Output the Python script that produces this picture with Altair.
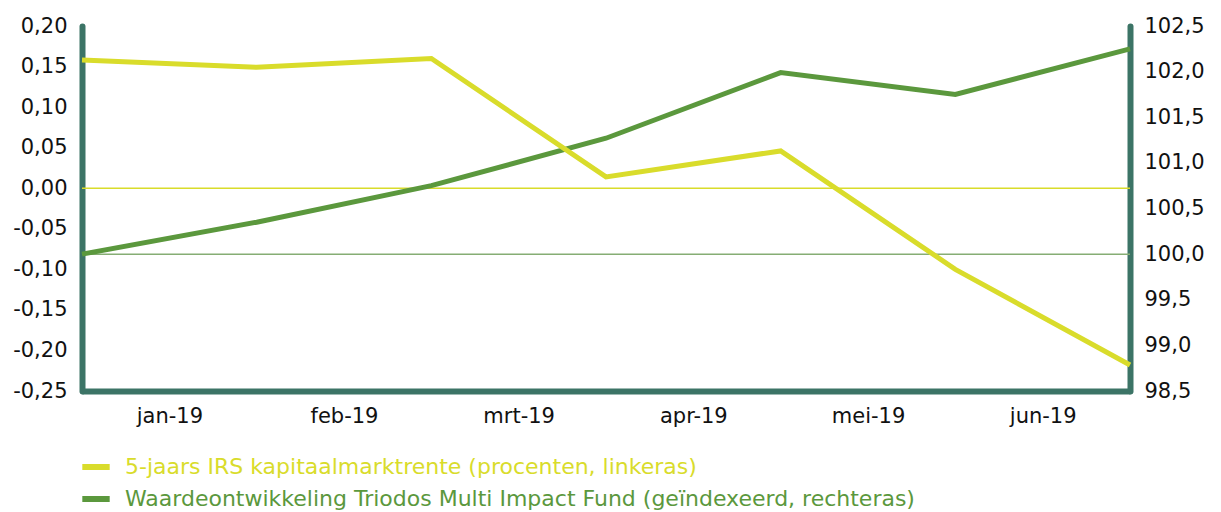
import altair as alt
import pandas as pd

months = ["jan-19", "feb-19", "mrt-19", "apr-19", "mei-19", "jun-19"]
x_idx = [0, 1, 2, 3, 4, 5, 6]
irs = [0.158, 0.149, 0.160, 0.014, 0.046, -0.100, -0.218]
fund = [100.0, 100.35, 100.75, 101.27, 101.99, 101.75, 102.25]
series = ["5-jaars IRS kapitaalmarktrente (procenten, linkeras)",
          "Waardeontwikkeling Triodos Multi Impact Fund (geïndexeerd, rechteras)"]
colors = ["#d9dc2b", "#5b983d"]
left_ticks = [-0.25, -0.20, -0.15, -0.10, -0.05, 0.0, 0.05, 0.10, 0.15, 0.20]
right_ticks = [98.5, 99.0, 99.5, 100.0, 100.5, 101.0, 101.5, 102.0, 102.5]

df_irs = pd.DataFrame({"x": x_idx, "v": irs, "s": series[0]})
df_fund = pd.DataFrame({"x": x_idx, "v": fund, "s": series[1]})
df_r0 = pd.DataFrame({"v": [0.0]})
df_r100 = pd.DataFrame({"v": [100.0]})

AX = "#3c7466"
FONT = "DejaVu Sans"
month_arr = "[" + ",".join("'%s'" % m for m in months) + "]"

x_enc = alt.X("x:Q", scale=alt.Scale(domain=[0, 6], nice=False, zero=False),
              axis=alt.Axis(values=[0.5, 1.5, 2.5, 3.5, 4.5, 5.5],
                            labelExpr=month_arr + "[floor(datum.value)]",
                            title=None, grid=False, ticks=False,
                            domainColor=AX, domainWidth=6, labelPadding=14,
                            labelFontSize=21, labelColor="#111", labelFont=FONT))

left_scale = alt.Scale(domain=[-0.25, 0.20], nice=False, zero=False)
right_scale = alt.Scale(domain=[98.5, 102.5], nice=False, zero=False)

left_axis = alt.Axis(orient="left", values=left_ticks, title=None, grid=False, ticks=False,
                     domainColor=AX, domainWidth=6, domainCap="round", labelPadding=15,
                     labelFontSize=21, labelColor="#111", labelFont=FONT,
                     labelExpr="replace(replace(format(datum.value, '.2f'), '.', ','), '\u2212', '-')")
right_axis = alt.Axis(orient="right", values=right_ticks, title=None, grid=False, ticks=False,
                      domainColor=AX, domainWidth=6, domainCap="round", labelPadding=14,
                      labelFontSize=21, labelColor="#111", labelFont=FONT,
                      labelExpr="replace(format(datum.value, '.1f'), '.', ',')")

label_color = alt.ExprRef(expr="datum.label == '" + series[0] + "' ? '" + colors[0] + "' : '" + colors[1] + "'")

color_enc = alt.Color("s:N", scale=alt.Scale(domain=series, range=colors),
                      legend=alt.Legend(title=None, orient="none", legendX=-3, legendY=424,
                                        symbolType="stroke", symbolStrokeWidth=6,
                                        symbolSize=750, labelFontSize=22, labelFont=FONT,
                                        labelOffset=12, rowPadding=3, padding=0,
                                        labelLimit=1000, labelColor=label_color))

rule0 = alt.Chart(df_r0).mark_rule(color="#d9dc2b", strokeWidth=1.5).encode(
    y=alt.Y("v:Q", scale=left_scale, axis=None))
rule100 = alt.Chart(df_r100).mark_rule(color="#86ad74", strokeWidth=1.5).encode(
    y=alt.Y("v:Q", scale=right_scale, axis=None))

fund_line = alt.Chart(df_fund).mark_line(strokeWidth=5).encode(
    x=x_enc, y=alt.Y("v:Q", scale=right_scale, axis=right_axis), color=color_enc)
irs_line = alt.Chart(df_irs).mark_line(strokeWidth=5).encode(
    x=x_enc, y=alt.Y("v:Q", scale=left_scale, axis=left_axis), color=color_enc)

chart = alt.layer(rule100, rule0, fund_line, irs_line).resolve_scale(
    y="independent", color="shared").properties(
    width=1048, height=365, padding={"left": 4, "top": 7, "right": 5, "bottom": 5}
).configure(font=FONT).configure_view(stroke=None)

chart.save("out.html", embed_options={"renderer": "svg", "actions": False})
